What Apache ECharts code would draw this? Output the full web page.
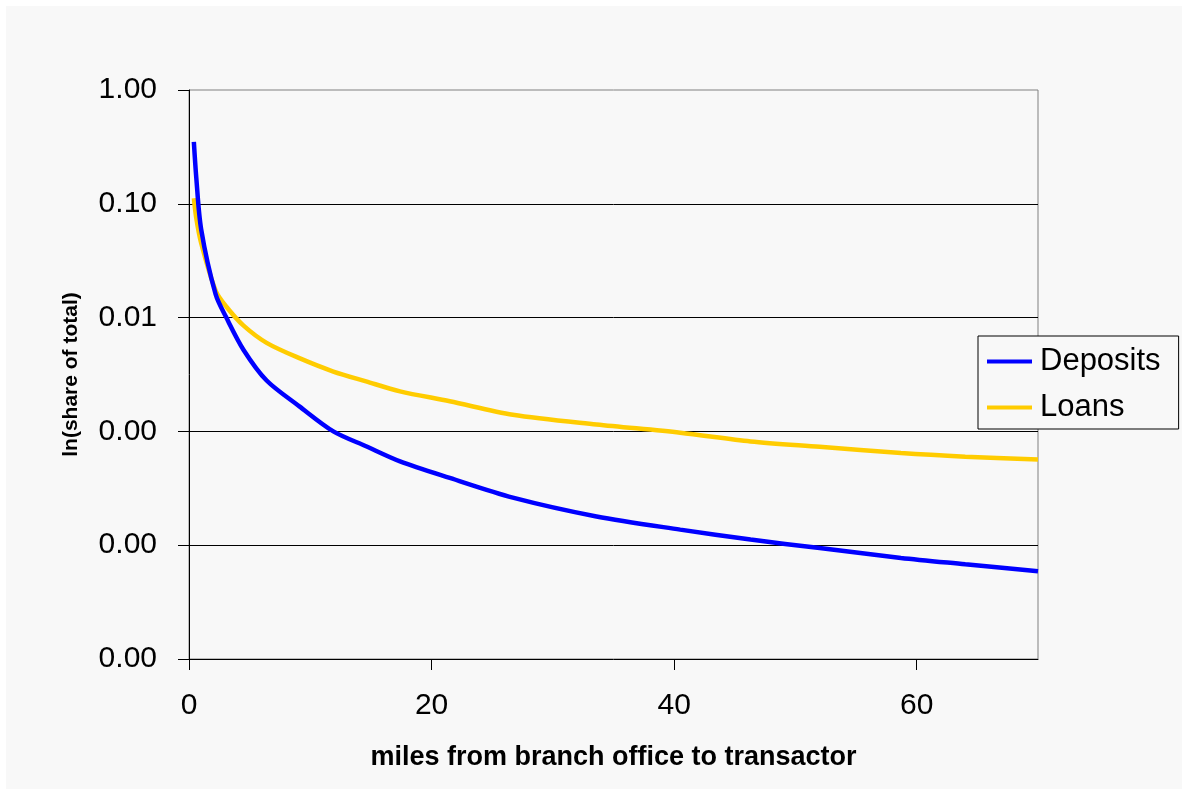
<!DOCTYPE html>
<html>
<head>
<meta charset="utf-8">
<script src="https://cdn.jsdelivr.net/npm/echarts@6/dist/echarts.min.js"></script>
<style>
html,body{margin:0;padding:0;background:#ffffff;width:1182px;height:789px;overflow:hidden;}
#bg{position:absolute;left:6px;top:6px;width:1176px;height:783px;background:#f8f8f8;}
#chart{position:absolute;left:0;top:0;width:1182px;height:789px;}
</style>
</head>
<body>
<div id="bg"></div>
<div id="chart"></div>
<script>
// miles from branch office to transactor
const distances = [0.4, 0.6, 1.0, 2.2, 3.1, 4.5, 6.4, 9.1, 11.9, 14.6, 17.4, 21.5, 26.7, 33.6, 40.5, 46.3, 52, 58.7, 64, 70];
// share of total
const deposits = [0.35, 0.17, 0.06, 0.016, 0.0099, 0.0052, 0.0028, 0.00166, 0.001, 0.00074, 0.000545, 0.00039, 0.000262, 0.000179, 0.000137, 0.000112, 0.0000944, 0.0000773, 0.000068, 0.000059];
const loans = [0.112, 0.075, 0.0454, 0.0172, 0.0124, 0.0085, 0.006, 0.0044, 0.00336, 0.00275, 0.00225, 0.00184, 0.0014, 0.00115, 0.000975, 0.000817, 0.000733, 0.000646, 0.0006, 0.000565];
const xTicks = [0, 20, 40, 60];
const seriesNames = ['Deposits', 'Loans'];

const font = '"Liberation Sans", Arial, sans-serif';
const chart = echarts.init(document.getElementById('chart'), null, {renderer: 'canvas'});
chart.setOption({
  backgroundColor: 'transparent',
  animation: false,
  grid: {left: 189, top: 90, right: 144, bottom: 130, show: true, borderColor: '#808080', borderWidth: 1, backgroundColor: 'transparent'},
  legend: {
    data: seriesNames,
    orient: 'vertical',
    left: 978, top: 336,
    padding: [10, 18, 6, 9],
    itemGap: 15,
    itemWidth: 45, itemHeight: 4,
    icon: 'rect',
    backgroundColor: '#f8f8f8',
    borderColor: '#000000', borderWidth: 1,
    textStyle: {fontFamily: font, fontSize: 31, color: '#000', padding: [0, 0, 0, 3]}
  },
  xAxis: {
    type: 'value', min: 0, max: 70, interval: 20,
    name: 'miles from branch office to transactor',
    nameLocation: 'middle', nameGap: 85,
    nameTextStyle: {fontFamily: font, fontSize: 27, fontWeight: 'bold', color: '#000'},
    axisLine: {show: true, lineStyle: {color: '#000', width: 1}},
    axisTick: {show: true, length: 11, lineStyle: {color: '#000'}, customValues: xTicks},
    axisLabel: {fontFamily: font, fontSize: 30, color: '#000', margin: 32, customValues: xTicks},
    splitLine: {show: false}
  },
  yAxis: {
    type: 'log', logBase: 10, min: 0.00001, max: 1,
    name: 'ln(share of total)',
    nameLocation: 'middle', nameGap: 107,
    nameTextStyle: {fontFamily: font, fontSize: 21, fontWeight: 'bold', color: '#000'},
    axisLine: {show: true, lineStyle: {color: '#000', width: 1}},
    axisTick: {show: true, length: 11, lineStyle: {color: '#000'}},
    axisLabel: {fontFamily: font, fontSize: 30, color: '#000', margin: 32, formatter: v => Number(v).toFixed(2)},
    splitLine: {show: true, showMinLine: false, showMaxLine: false, lineStyle: {color: '#000', width: 1}}
  },
  series: [
    {name: seriesNames[0], type: 'line', data: distances.map((d, i) => [d, deposits[i]]), smooth: 0.3, symbol: 'none', lineStyle: {color: '#0000ff', width: 4.5}, itemStyle: {color: '#0000ff'}, z: 3},
    {name: seriesNames[1], type: 'line', data: distances.map((d, i) => [d, loans[i]]), smooth: 0.3, symbol: 'none', lineStyle: {color: '#ffcc00', width: 4.5}, itemStyle: {color: '#ffcc00'}, z: 2}
  ]
});
</script>
</body>
</html>
